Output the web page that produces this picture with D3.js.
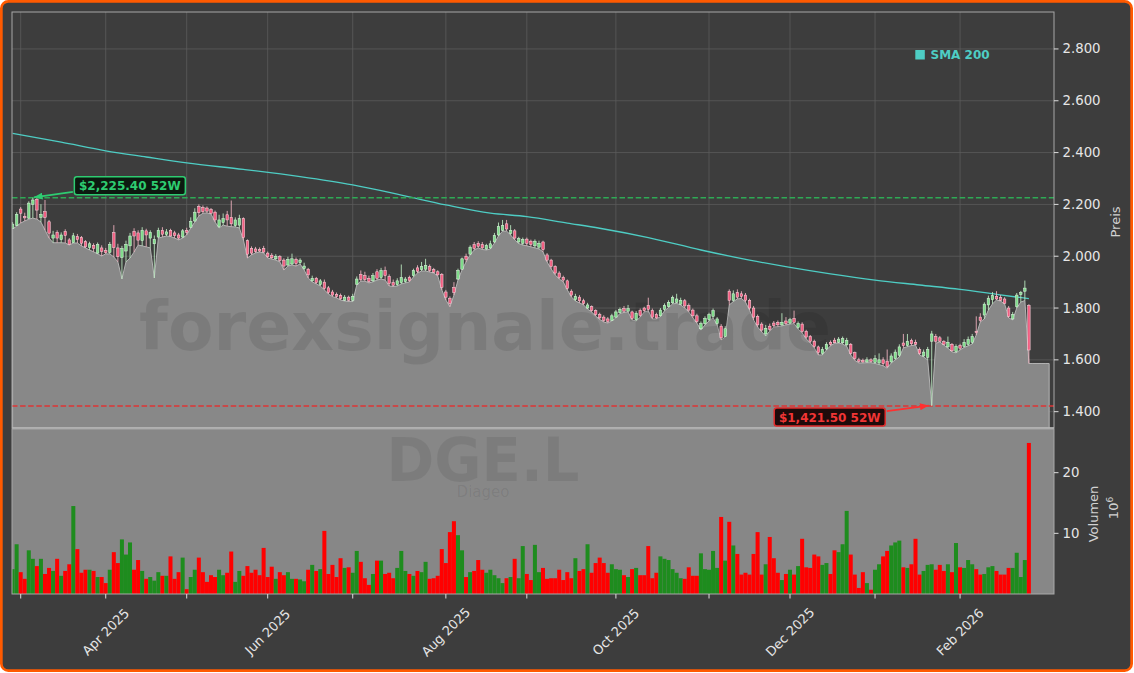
<!DOCTYPE html>
<html><head><meta charset="utf-8">
<script src="https://cdn.jsdelivr.net/npm/d3@7"></script>
<style>
html,body{margin:0;padding:0;background:#ffffff;}
svg{display:block;font-family:"DejaVu Sans",sans-serif;}
</style></head><body>
<svg id="chart" width="1134" height="673"></svg>
<script>
// ---------------- DATA (trading-day index 0 = 27 Feb 2025) ----------------
const opens = [
2108,2118,2182,2154,2147,2200,2220,2150,2172,2133,
2070,2092,2064,2095,2063,2052,2076,2072,2056,2034,
2042,2012,2032,2022,2015,2091,2032,1995,2020,2040,
2096,2090,2060,2098,2070,2048,2074,2100,2084,2100,
2090,2082,2074,2100,2112,2136,2192,2188,2186,2180,
2170,2114,2130,2160,2150,2118,2120,2145,2060,2030,
2028,2026,2030,2012,2004,1990,1998,1985,1966,1970,
1988,1975,1952,1950,1905,1915,1890,1900,1878,1862,
1852,1848,1830,1842,1830,1892,1930,1925,1915,1905,
1940,1918,1945,1922,1898,1890,1898,1902,1918,1925,
1955,1948,1950,1960,1948,1940,1930,1862,1838,1880,
1912,1950,2000,2008,2045,2050,2045,2028,2032,2055,
2082,2100,2125,2088,2098,2055,2050,2066,2058,2040,
2035,2055,2005,1985,1960,1935,1918,1905,1865,1832,
1842,1828,1800,1805,1790,1775,1765,1758,1752,1765,
1782,1798,1788,1785,1755,1790,1800,1810,1790,1775,
1770,1795,1805,1820,1822,1815,1828,1810,1792,1770,
1720,1740,1755,1768,1740,1730,1690,1865,1830,1860,
1855,1850,1830,1800,1768,1738,1700,1730,1742,1745,
1735,1750,1742,1760,1725,1738,1710,1690,1672,1650,
1625,1642,1668,1676,1668,1666,1658,1660,1628,1600,
1598,1592,1600,1590,1588,1600,1595,1592,1605,1618,
1665,1655,1675,1668,1640,1615,1610,1672,1690,1685,
1670,1650,1660,1632,1655,1652,1660,1668,1710,1765,
1773,1812,1832,1845,1840,1835,1800,1758,1805,1852,
1865,1810];
const highs = [
2132,2170,2190,2168,2212,2225.4,2224,2201,2217,2140,
2098,2100,2092,2104,2070,2090,2086,2078,2062,2056,
2050,2053,2042,2032,2055,2120,2048,2040,2060,2090,
2108,2100,2112,2106,2100,2080,2110,2112,2105,2106,
2098,2090,2105,2110,2150,2185,2200,2196,2192,2186,
2176,2160,2165,2175,2215,2150,2160,2150,2065,2038,
2036,2034,2040,2018,2012,2008,2004,1992,1998,2010,
1995,1992,1975,1955,1925,1920,1912,1910,1885,1870,
1860,1856,1850,1848,1855,1922,1945,1940,1925,1935,
1950,1955,1960,1930,1910,1915,1968,1920,1925,1952,
1965,1978,1990,1968,1955,1946,1935,1870,1845,1900,
1952,1995,2010,2042,2055,2058,2055,2048,2060,2090,
2130,2140,2140,2120,2105,2075,2072,2072,2064,2065,
2060,2060,2012,1990,1965,1942,1925,1910,1872,1855,
1850,1836,1820,1810,1795,1782,1772,1765,1778,1792,
1802,1808,1812,1790,1788,1798,1805,1840,1798,1782,
1800,1818,1830,1848,1855,1840,1835,1818,1798,1778,
1748,1768,1782,1798,1765,1738,1730,1872,1868,1872,
1865,1858,1836,1808,1775,1745,1735,1740,1750,1752,
1780,1765,1762,1790,1748,1745,1716,1696,1678,1655,
1650,1668,1675,1685,1688,1690,1685,1665,1632,1608,
1605,1610,1606,1618,1625,1610,1640,1625,1640,1660,
1700,1700,1682,1678,1648,1640,1650,1712,1700,1692,
1676,1690,1665,1660,1662,1680,1690,1700,1768,1780,
1822,1848,1862,1865,1850,1842,1808,1785,1858,1866,
1906,1815];
const lows = [
2105,2116,2128,2136,2143,2147,2143,2132,2101,2070,
2052,2052,2052,2051,2043,2051,2051,2040,2032,2024,
2017,2009,2001,2009,2009,1997,1978,1912,1978,1993,
2016,2043,2040,2036,2032,1916,2070,2074,2078,2076,
2070,2063,2070,2082,2109,2132,2155,2166,2167,2163,
2132,2109,2120,2116,2114,2113,2109,2063,1993,2005,
2013,2016,2013,1993,1989,1985,1978,1947,1962,1966,
1962,1970,1947,1916,1901,1893,1885,1870,1854,1844,
1839,1831,1827,1825,1825,1889,1904,1904,1897,1901,
1908,1912,1908,1885,1883,1885,1893,1897,1901,1920,
1935,1943,1943,1939,1935,1924,1870,1831,1805,1850,
1908,1947,1978,2005,2024,2032,2026,2024,2028,2051,
2078,2097,2097,2082,2063,2049,2043,2040,2036,2032,
2028,2017,1978,1951,1928,1912,1901,1870,1843,1827,
1820,1812,1796,1785,1769,1756,1746,1742,1750,1762,
1779,1783,1785,1754,1750,1765,1785,1789,1758,1758,
1767,1789,1802,1816,1818,1812,1800,1785,1762,1742,
1715,1735,1750,1762,1735,1677,1688,1812,1825,1835,
1837,1823,1792,1754,1727,1708,1692,1711,1727,1728,
1731,1735,1738,1740,1719,1704,1681,1665,1646,1619,
1619,1638,1654,1664,1665,1661,1652,1619,1598,1588,
1588,1589,1589,1586,1582,1577,1568,1588,1600,1611,
1646,1651,1655,1657,1619,1611,1600,1421.5,1664,1669,
1657,1645,1631,1627,1638,1648,1654,1661,1696,1746,
1758,1792,1816,1831,1827,1816,1762,1754,1800,1823,
1829,1586];
const closes = [
2124,2162,2166,2148,2205,2217,2178,2162,2150,2089,
2082,2070,2082,2080,2046,2079,2064,2050,2036,2048,
2030,2046,2018,2014,2046,2033,1998,2030,2046,2078,
2078,2062,2100,2082,2092,2065,2100,2085,2094,2078,
2080,2070,2098,2092,2135,2170,2168,2172,2174,2166,
2140,2140,2145,2140,2125,2140,2145,2072,2008,2012,
2018,2020,2016,1998,1994,2000,1984,1962,1988,1990,
1972,1985,1962,1928,1915,1898,1905,1876,1860,1850,
1845,1836,1842,1830,1845,1912,1910,1910,1902,1925,
1915,1945,1925,1895,1888,1905,1918,1912,1906,1945,
1942,1960,1965,1945,1938,1928,1880,1842,1818,1860,
1945,1990,1988,2035,2030,2038,2032,2042,2048,2080,
2115,2118,2105,2100,2070,2068,2065,2050,2045,2058,
2050,2025,1985,1960,1935,1918,1908,1876,1850,1845,
1828,1818,1812,1790,1775,1762,1752,1748,1770,1785,
1795,1788,1798,1760,1780,1772,1790,1795,1765,1762,
1792,1810,1822,1840,1835,1830,1808,1792,1770,1748,
1740,1760,1775,1790,1758,1685,1720,1830,1855,1842,
1845,1830,1800,1765,1735,1715,1722,1718,1732,1735,
1745,1740,1755,1745,1740,1710,1688,1672,1652,1628,
1640,1660,1660,1666,1680,1682,1675,1625,1605,1594,
1592,1600,1594,1605,1600,1585,1575,1615,1630,1650,
1655,1672,1662,1660,1625,1630,1640,1700,1672,1672,
1660,1668,1635,1652,1645,1668,1678,1690,1705,1752,
1815,1838,1848,1835,1830,1818,1768,1775,1850,1860,
1877,1638];
// volume in millions
const volumes = [
4.1,8.2,3.6,2.5,7.2,5.8,4.6,5.8,3.3,4.3,
3.8,5.8,3.0,3.8,4.9,14.5,7.4,3.5,4.0,4.0,
3.8,2.8,2.8,1.8,4.0,6.9,5.1,9.0,6.5,8.5,
4.0,5.6,3.8,2.5,2.8,2.2,3.6,3.0,3.0,6.2,
2.5,3.6,6.0,0.8,2.8,4.0,6.0,3.6,2.0,3.1,
2.8,4.0,3.1,3.5,7.0,2.0,3.8,3.0,4.6,3.5,
4.0,3.1,7.6,2.8,4.5,2.5,3.6,3.1,3.6,2.5,
2.5,2.4,2.1,4.0,4.8,3.8,4.1,10.4,3.3,4.8,
2.8,5.9,4.3,4.4,3.5,7.1,5.3,2.6,1.5,3.3,
5.5,5.5,3.3,3.5,2.6,4.3,7.1,3.8,3.3,3.0,
3.8,3.6,5.3,2.5,2.6,3.0,7.4,5.1,10.2,12.0,
9.7,7.2,2.8,3.6,3.8,5.6,4.0,3.5,4.0,3.1,
2.6,1.8,2.6,2.8,5.8,2.6,7.9,3.3,2.3,8.1,
3.6,4.3,2.5,2.6,2.6,4.0,2.3,3.6,2.6,5.9,
3.8,4.1,8.2,3.5,5.1,6.0,5.1,3.5,4.9,4.1,
4.0,3.1,2.8,4.1,4.3,3.1,3.1,7.9,2.6,3.5,
6.2,5.8,5.6,4.1,3.5,2.6,2.5,4.4,3.0,3.0,
6.7,4.1,4.0,7.1,4.3,12.7,5.5,11.9,8.0,6.6,
3.2,3.5,3.2,6.6,10.2,3.2,4.9,9.4,5.9,3.5,
2.3,3.3,4.0,3.2,4.6,9.1,4.4,4.3,6.5,6.2,
4.8,5.1,3.3,7.2,6.9,8.2,13.7,6.5,3.2,1.0,
3.6,1.8,0.7,4.0,4.9,6.2,7.1,8.0,8.5,8.8,
4.4,4.3,4.9,9.1,3.2,3.8,4.8,4.9,4.0,4.8,
3.8,4.9,3.6,8.4,4.4,4.3,5.6,4.9,4.1,3.2,
3.3,4.4,4.6,3.8,3.2,3.2,4.3,4.3,6.8,2.8,
5.6,24.9];
// SMA 200 read at selected trading-day indices
const smaIdx  = [0,12,23,33,43,57,71,84,96,107,118,127,137,145,157,170,182,192,202,213,224,234,243,251];
const smaVals = [2474,2440,2407,2383,2360,2335,2307,2275,2236,2198,2166,2153,2128,2108,2072,2024,1985,1957,1932,1908,1889,1872,1853,1836];
// month ticks (index of first trading day in each month)
const monthTickIdx = [2,23,43,63,84,107,127,149,172,192,213,234];
const monthTickLabels = ["","Apr 2025","","Jun 2025","","Aug 2025","","Oct 2025","","Dec 2025","","Feb 2026"];
const priceTicks = [1400,1600,1800,2000,2200,2400,2600,2800];
const volTicks = [10,20];
const high52 = 2225.40, high52Idx = 5;
const low52 = 1421.50, low52Idx = 227;
const padDays = 5;

// ---------------- LAYOUT ----------------
const P = {left:12, right:1054, top:12, pBottom:428, vTop:429, vBottom:594};
const BG = "#3d3d3d";
const svg = d3.select("#chart");
const n = closes.length;

const x = d3.scaleLinear().domain([-0.15, n - 1 + padDays + 1.2]).range([P.left, P.right]);
const y = d3.scaleLinear().domain([1337, 2942.6]).range([P.pBottom, P.top]);
const yv = d3.scaleLinear().domain([0, 27.2]).range([P.vBottom, P.vTop]);
const step = x(1) - x(0);
const fmtDE = d3.formatLocale({decimal:",", thousands:".", grouping:[3], currency:["",""]}).format(",.0f");

// figure background + orange frame
svg.append("rect").attr("x",1.35).attr("y",1.35).attr("width",1130.3).attr("height",669.3)
  .attr("rx",7).attr("fill",BG).attr("stroke","#ff5a00").attr("stroke-width",2.7);

const defs = svg.append("defs");
defs.append("clipPath").attr("id","cp").append("rect")
  .attr("x",P.left).attr("y",P.top).attr("width",P.right-P.left).attr("height",P.pBottom-P.top);
defs.append("clipPath").attr("id","cv").append("rect")
  .attr("x",P.left).attr("y",P.vTop).attr("width",P.right-P.left).attr("height",P.vBottom-P.vTop);
function marker(id, color){
  defs.append("marker").attr("id",id).attr("viewBox","0 0 10 8").attr("refX",10).attr("refY",4)
    .attr("markerWidth",9).attr("markerHeight",7).attr("markerUnits","userSpaceOnUse").attr("orient","auto")
    .append("path").attr("d","M0,0 L10,4 L0,8 Z").attr("fill",color);
}
marker("mg","#2ecc71"); marker("mr","#ff3030");

// ---------------- PRICE PANEL ----------------
const gp = svg.append("g").attr("clip-path","url(#cp)");
gp.append("rect").attr("x",P.left).attr("y",P.top).attr("width",P.right-P.left).attr("height",P.pBottom-P.top).attr("fill",BG);
// grid
gp.selectAll("line.hg").data(priceTicks).join("line")
  .attr("x1",P.left).attr("x2",P.right).attr("y1",d=>y(d)).attr("y2",d=>y(d))
  .attr("stroke","#5c5c5c").attr("stroke-width",0.8);
gp.selectAll("line.vg").data(monthTickIdx).join("line")
  .attr("x1",d=>x(d)).attr("x2",d=>x(d)).attr("y1",P.top).attr("y2",P.pBottom)
  .attr("stroke","#5c5c5c").attr("stroke-width",0.8);

// area of lows (+ flat padding after last day)
const areaData = lows.map((v,i)=>({i,v}));
for(let k=1;k<=padDays;k++) areaData.push({i:n-1+k, v:lows[n-1]});
gp.append("path").datum(areaData)
  .attr("d", d3.area().x(d=>x(d.i)).y0(P.pBottom+2).y1(d=>y(d.v)))
  .attr("fill","#888888").attr("stroke","#b4b4b4").attr("stroke-width",1);

// watermark
gp.append("text").attr("x",485).attr("y",350).attr("text-anchor","middle")
  .attr("font-size",67).attr("font-weight","bold").attr("fill","#000").attr("fill-opacity",0.09)
  .attr("textLength",692).attr("lengthAdjust","spacingAndGlyphs").text("forexsignale.trade");

// SMA line
gp.append("path").datum(smaIdx.map((d,k)=>[d,smaVals[k]]))
  .attr("d", d3.line().x(d=>x(d[0])).y(d=>y(d[1])).curve(d3.curveMonotoneX))
  .attr("fill","none").attr("stroke","#4ecdc4").attr("stroke-width",1.3);

// 52W lines
gp.append("line").attr("x1",P.left).attr("x2",P.right).attr("y1",y(high52)).attr("y2",y(high52))
  .attr("stroke","#2eaa55").attr("stroke-width",1.5).attr("stroke-dasharray","5.5,2.6");
gp.append("line").attr("x1",P.left).attr("x2",P.right).attr("y1",y(low52)).attr("y2",y(low52))
  .attr("stroke","#dd3535").attr("stroke-width",1.5).attr("stroke-dasharray","5.5,2.6");

// candles
const bw = step*0.62;
const cg = gp.append("g");
closes.forEach((c,i)=>{
  const o = opens[i], up = c >= o;
  cg.append("line").attr("x1",x(i)).attr("x2",x(i)).attr("y1",y(highs[i])).attr("y2",y(lows[i]))
    .attr("stroke", up ? "#bfeec4" : "#f3b4c2").attr("stroke-width",1).attr("stroke-opacity",0.85);
  const top = y(Math.max(o,c)), bot = y(Math.min(o,c));
  cg.append("rect").attr("x",x(i)-bw/2).attr("y",top).attr("width",bw).attr("height",Math.max(1,bot-top))
    .attr("fill", up ? "#7fdc8a" : "#f25f82").attr("stroke", up ? "#e2f8e4" : "#ffdbe3").attr("stroke-width",0.5);
});

// annotations
const hx = x(high52Idx), hy = y(high52);
svg.append("line").attr("x1",hx+40).attr("y1",hy-6).attr("x2",hx+1).attr("y2",hy-0.5)
  .attr("stroke","#2ecc71").attr("stroke-width",1.8).attr("marker-end","url(#mg)");
svg.append("rect").attr("x",hx+41.5).attr("y",hy-21).attr("width",111).attr("height",18)
  .attr("rx",2.5).attr("fill","#0c1a10").attr("stroke","#2ecc71").attr("stroke-width",1.5);
svg.append("text").attr("x",hx+97).attr("y",hy-11.5).attr("text-anchor","middle").attr("dominant-baseline","central")
  .attr("font-size",12).attr("font-weight","bold").attr("fill","#2ecc71").text("$2,225.40 52W");

const lx = x(low52Idx), ly = y(low52);
svg.append("line").attr("x1",lx-45).attr("y1",ly+5).attr("x2",lx-3).attr("y2",ly-0.5)
  .attr("stroke","#ff3030").attr("stroke-width",1.8).attr("marker-end","url(#mr)");
svg.append("rect").attr("x",lx-157.5).attr("y",ly+2).attr("width",111).attr("height",18)
  .attr("rx",2.5).attr("fill","#1e0b0b").attr("stroke","#e02c2c").attr("stroke-width",1.5);
svg.append("text").attr("x",lx-102).attr("y",ly+11.5).attr("text-anchor","middle").attr("dominant-baseline","central")
  .attr("font-size",12).attr("font-weight","bold").attr("fill","#f03535").text("$1,421.50 52W");

// legend
svg.append("rect").attr("x",915.3).attr("y",50).attr("width",9.5).attr("height",9.5).attr("fill","#4ecdc4");
svg.append("text").attr("x",930.5).attr("y",54.5).attr("dominant-baseline","central")
  .attr("font-size",12).attr("font-weight","bold").attr("fill","#4ecdc4").text("SMA 200");

// price spines
svg.append("rect").attr("x",P.left).attr("y",P.top).attr("width",P.right-P.left).attr("height",P.pBottom-P.top)
  .attr("fill","none").attr("stroke","#a8a8a8").attr("stroke-width",1);

// price y axis (right)
const ya = svg.append("g");
priceTicks.forEach(t=>{
  ya.append("line").attr("x1",P.right).attr("x2",P.right+4.5).attr("y1",y(t)).attr("y2",y(t)).attr("stroke","#dddddd");
  ya.append("text").attr("x",P.right+8.5).attr("y",y(t)).attr("dominant-baseline","central")
    .attr("font-size",13.3).attr("fill","#e6e6e6").text(fmtDE(t));
});
svg.append("text").attr("transform","translate(1120,222) rotate(-90)").attr("text-anchor","middle")
  .attr("font-size",13).attr("fill","#d2d2d2").text("Preis");

// ---------------- VOLUME PANEL ----------------
const gv = svg.append("g").attr("clip-path","url(#cv)");
gv.append("rect").attr("x",P.left).attr("y",P.vTop).attr("width",P.right-P.left).attr("height",P.vBottom-P.vTop).attr("fill","#878787");
gv.append("text").attr("x",483).attr("y",481).attr("text-anchor","middle")
  .attr("font-size",60).attr("font-weight","bold").attr("fill","#000").attr("fill-opacity",0.08)
  .attr("textLength",193).attr("lengthAdjust","spacingAndGlyphs").text("DGE.L");
gv.append("text").attr("x",483).attr("y",497).attr("text-anchor","middle")
  .attr("font-size",15).attr("fill","#000").attr("fill-opacity",0.08).text("Diageo");
gv.selectAll("rect.vb").data(volumes).join("rect")
  .attr("x",(d,i)=>x(i)-step/2).attr("width",step*0.99)
  .attr("y",d=>yv(d)).attr("height",d=>P.vBottom-yv(d))
  .attr("fill",(d,i)=> closes[i] >= opens[i] ? "#1e8c1e" : "#ff0000");
svg.append("rect").attr("x",P.left).attr("y",P.vTop).attr("width",P.right-P.left).attr("height",P.vBottom-P.vTop)
  .attr("fill","none").attr("stroke","#a8a8a8").attr("stroke-width",1);
svg.append("line").attr("x1",P.left).attr("x2",P.right).attr("y1",P.pBottom).attr("y2",P.pBottom)
  .attr("stroke","#b8b8b8").attr("stroke-width",1.5);

volTicks.forEach(t=>{
  svg.append("line").attr("x1",P.right).attr("x2",P.right+4.5).attr("y1",yv(t)).attr("y2",yv(t)).attr("stroke","#dddddd");
  svg.append("text").attr("x",P.right+8.5).attr("y",yv(t)).attr("dominant-baseline","central")
    .attr("font-size",13.3).attr("fill","#e6e6e6").text(t);
});
svg.append("text").attr("transform","translate(1098,514) rotate(-90)").attr("text-anchor","middle")
  .attr("font-size",13).attr("fill","#d2d2d2").text("Volumen");
const e6 = svg.append("text").attr("transform","translate(1118,508) rotate(-90)").attr("text-anchor","middle")
  .attr("font-size",13).attr("fill","#d2d2d2");
e6.append("tspan").text("10");
e6.append("tspan").attr("dy",-5).attr("font-size",9).text("6");

// x axis (bottom)
monthTickIdx.forEach((t,k)=>{
  svg.append("line").attr("x1",x(t)).attr("x2",x(t)).attr("y1",P.vBottom).attr("y2",P.vBottom+4.5).attr("stroke","#dddddd");
  if(monthTickLabels[k]){
    svg.append("text").attr("transform",`translate(${x(t)},632) rotate(-45)`)
      .attr("text-anchor","middle").attr("dominant-baseline","central")
      .attr("font-size",13).attr("fill","#e6e6e6").text(monthTickLabels[k]);
  }
});
</script>
</body></html>
